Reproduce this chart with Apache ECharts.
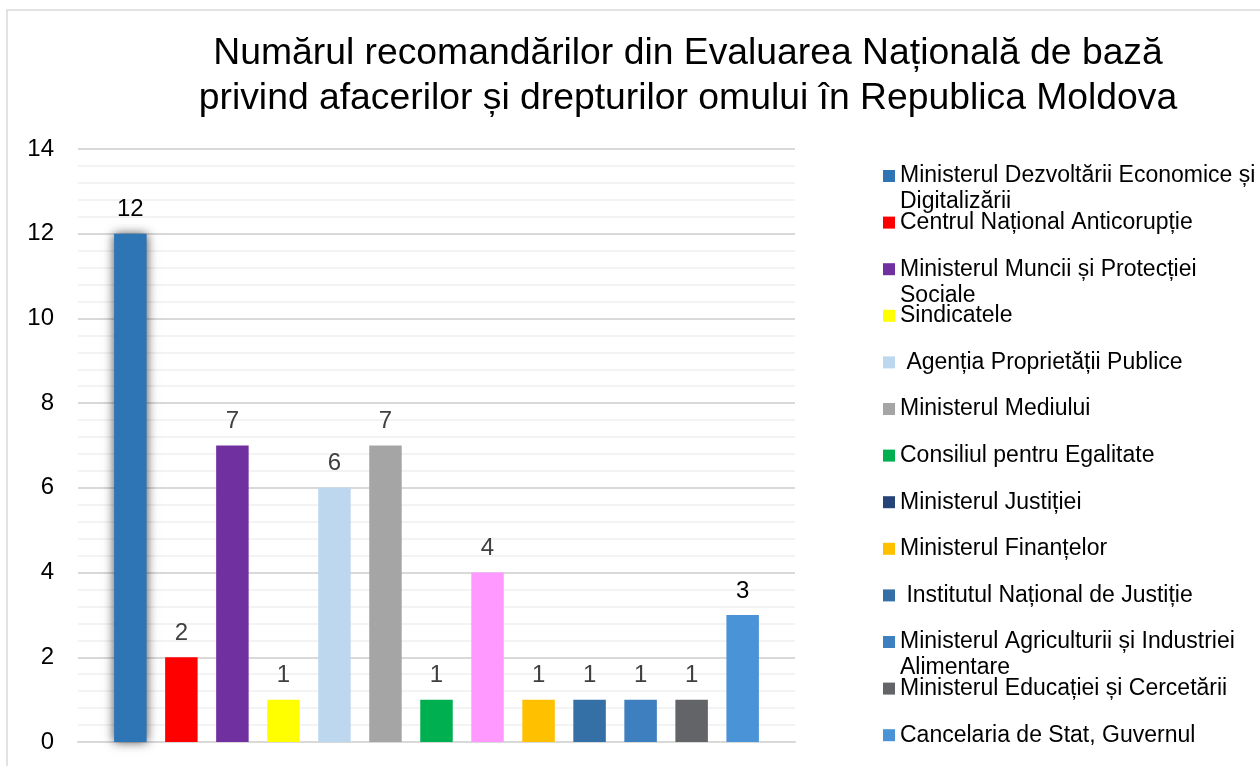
<!DOCTYPE html>
<html><head><meta charset="utf-8">
<script src="https://cdn.jsdelivr.net/npm/echarts@6/dist/echarts.min.js"></script>
<style>html,body{margin:0;padding:0;background:#fff}#c{width:1260px;height:766px}</style>
</head><body><div id="c"></div>
<script>
const titleText = 'Numărul recomandărilor din Evaluarea Națională de bază\nprivind afacerilor și drepturilor omului în Republica Moldova';
const institutions = [
  'Ministerul Dezvoltării Economice și Digitalizării',
  'Centrul Național Anticorupție',
  'Ministerul Muncii și Protecției Sociale',
  'Sindicatele',
  ' Agenția Proprietății Publice',
  'Ministerul Mediului',
  'Consiliul pentru Egalitate',
  'Ministerul Justiției',
  'Ministerul Finanțelor',
  ' Institutul Național de Justiție',
  'Ministerul Agriculturii și Industriei Alimentare',
  'Ministerul Educației și Cercetării',
  'Cancelaria de Stat, Guvernul'
];
const recommendations = [12, 2, 7, 1, 6, 7, 1, 4, 1, 1, 1, 1, 3];
const barColors = ['#2E75B6','#FF0000','#7030A0','#FFFF00','#BDD7EE','#A5A5A5','#00B050','#FF99FF','#FFC000','#3470A6','#3D7FBF','#636467','#4A93D6'];
const legendColors = ['#2E75B6','#FF0000','#7030A0','#FFFF00','#BDD7EE','#A5A5A5','#00B050','#264478','#FFC000','#3470A6','#3D7FBF','#636467','#4A93D6'];
const yMin = 0, yMax = 14, yInterval = 2;

const FONT = '"Liberation Sans", Arial, sans-serif';
const LEG_SIZE = 23, LEG_LH = 26, LEG_W = 366;
const ctx = document.createElement('canvas').getContext('2d');
ctx.font = LEG_SIZE + 'px ' + FONT;
function wrapName(t) {
  const lead = t.startsWith(' ') ? ' ' : '';
  const words = t.trim().split(' ');
  const lines = [];
  let cur = '';
  for (const w of words) {
    const test = cur ? cur + ' ' + w : lead + w;
    if (ctx.measureText(test).width > LEG_W && cur) { lines.push(cur); cur = w; } else cur = test;
  }
  lines.push(cur);
  return lines;
}

const legends = institutions.map((name, i) => {
  const lines = wrapName(name);
  const n = lines.length;
  // blank lines in front keep the first text line level with the icon
  const shown = new Array(n - 1).fill(' ').concat(lines).join('\n');
  const outerH = LEG_LH * (2 * n - 1);
  const yc = 176 + i * 46.6;
  return {
    left: 883, top: yc - outerH / 2, padding: 0, itemWidth: 12, itemHeight: 12, itemGap: 0, icon: 'rect',
    data: [{ name: name, itemStyle: { color: legendColors[i] } }],
    formatter: () => shown,
    textStyle: { fontSize: LEG_SIZE, lineHeight: LEG_LH, fontFamily: FONT, color: '#000' }
  };
});

const chart = echarts.init(document.getElementById('c'), null, { renderer: 'canvas' });
chart.setOption({
  backgroundColor: '#fff',
  animation: false,
  title: {
    text: titleText, left: 688, top: 31, padding: 0, textAlign: 'center',
    textStyle: { fontSize: 37.3, fontWeight: 'normal', fontFamily: FONT, color: '#000', lineHeight: 45 }
  },
  graphic: [{
    type: 'rect', silent: true, z: -10,
    shape: { x: 7, y: 10, width: 1400, height: 900 },
    style: { fill: 'none', stroke: '#d9d9d9', lineWidth: 1.5 }
  }],
  legend: legends,
  grid: { left: 78, right: 465, top: 149, bottom: 24, containLabel: false },
  xAxis: {
    type: 'category', data: [''],
    axisLabel: { show: false }, axisTick: { show: false },
    axisLine: { show: true, lineStyle: { color: '#d9d9d9', width: 2 } }
  },
  yAxis: {
    type: 'value', min: yMin, max: yMax, interval: yInterval,
    axisLine: { show: false }, axisTick: { show: false },
    axisLabel: { fontSize: 24, fontFamily: FONT, color: '#000', margin: 24 },
    splitLine: { lineStyle: { color: '#d9d9d9', width: 2 } },
    minorTick: { show: false, splitNumber: 5 },
    minorSplitLine: { show: true, lineStyle: { color: '#f0f0f0', width: 1.5 } }
  },
  series: institutions.map((name, i) => ({
    type: 'bar', name: name, data: [recommendations[i]],
    barWidth: 32.5, barGap: '57%',
    itemStyle: Object.assign({ color: barColors[i] }, i === 0 ? { shadowBlur: 10, shadowColor: 'rgba(0,0,0,0.7)' } : {}),
    label: { show: true, position: 'top', distance: 12, fontSize: 24, fontFamily: FONT, color: (i === 0 || i === 12) ? '#000' : '#404040' }
  }))
});
</script></body></html>
